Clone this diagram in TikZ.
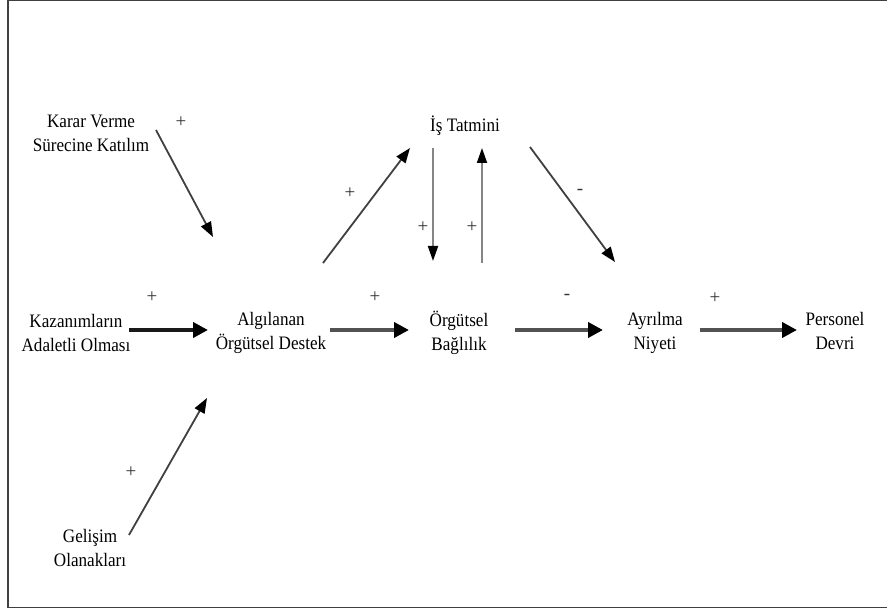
\documentclass[tikz,border=0pt]{standalone}
\usepackage{fontspec}
\setmainfont{Liberation Serif}
\usetikzlibrary{arrows.meta}
\begin{document}
\begin{tikzpicture}[x=1pt,y=-1pt,
  concept/.style={align=center,font=\fontsize{19}{24}\selectfont\addfontfeature{FakeStretch=0.9},inner sep=0pt},
  sign/.style={font=\fontsize{19}{19}\selectfont,inner sep=0pt,text=black!80},
  mainflow/.style={line width=4pt,draw=black!68,-{Triangle[length=15pt,width=15pt,fill=black,color=black]}},
  slant/.style={line width=1.8pt,draw=black!75,-{Triangle[length=15pt,width=11pt,fill=black,color=black]}},
  upright/.style={line width=1.8pt,draw=black!48,-{Triangle[length=15pt,width=10pt,fill=black,color=black]}}]
\useasboundingbox (0,0) rectangle (887,609);
\fill[white] (0,0) rectangle (887,609);
% frame
\draw[black!75,line width=1.5pt] (887,0.75) -- (7.75,0.75) -- (7.75,607.5) -- (887,607.5);

% concepts
\node[concept] (karar) at (91,133) {Karar Verme\\Sürecine Katılım};
\node[concept] (kazan) at (76,333) {Kazanımların\\Adaletli Olması};
\node[concept] (gelis) at (90,548) {Gelişim\\Olanakları};
\node[concept] (algi) at (271,333) {Algılanan\\Örgütsel Destek};
\node[concept] (istat) at (465,126) {İş Tatmini};
\node[concept] (bagli) at (459,333) {Örgütsel\\Bağlılık};
\node[concept] (ayril) at (655,333) {Ayrılma\\Niyeti};
\node[concept] (perso) at (835,331) {Personel\\Devri};

% arrow end points
\coordinate (kararS) at (156,130);  \coordinate (kararE) at (213,237);
\coordinate (gelisS) at (129,535);  \coordinate (gelisE) at (207,398);
\coordinate (kazanS) at (129,330);  \coordinate (kazanE) at (208,330);
\coordinate (algiS)  at (330,330);  \coordinate (algiE)  at (409,330);
\coordinate (bagliS) at (515,330);  \coordinate (bagliE) at (603,330);
\coordinate (ayrilS) at (700,330);  \coordinate (ayrilE) at (797,330);
\coordinate (algiU)  at (323,263);  \coordinate (istatL) at (410,148);
\coordinate (istatD) at (433,148);  \coordinate (bagliT) at (433,261);
\coordinate (bagliU) at (482,263);  \coordinate (istatU) at (482,148);
\coordinate (istatR) at (530,147);  \coordinate (ayrilT) at (615,262);

% connectors
\draw[slant] (kararS) -- (kararE);
\draw[slant] (gelisS) -- (gelisE);
\draw[mainflow,draw=black!90] (kazanS) -- (kazanE);
\draw[mainflow] (algiS) -- (algiE);
\draw[mainflow] (bagliS) -- (bagliE);
\draw[mainflow] (ayrilS) -- (ayrilE);
\draw[slant] (algiU) -- (istatL);
\draw[upright] (istatD) -- (bagliT);
\draw[upright] (bagliU) -- (istatU);
\draw[slant] (istatR) -- (ayrilT);

% signs
\node[sign] (s1) at (181,122) {+};
\node[sign] (s2) at (152,297) {+};
\node[sign] (s3) at (131,472) {+};
\node[sign] (s4) at (375,297) {+};
\node[sign] (s5) at (350,193) {+};
\node[sign] (s6) at (423,227) {+};
\node[sign] (s7) at (472,227) {+};
\node[sign] (s8) at (580,192) {-};
\node[sign] (s9) at (567,297) {-};
\node[sign] (s10) at (715,298) {+};
\end{tikzpicture}
\end{document}
